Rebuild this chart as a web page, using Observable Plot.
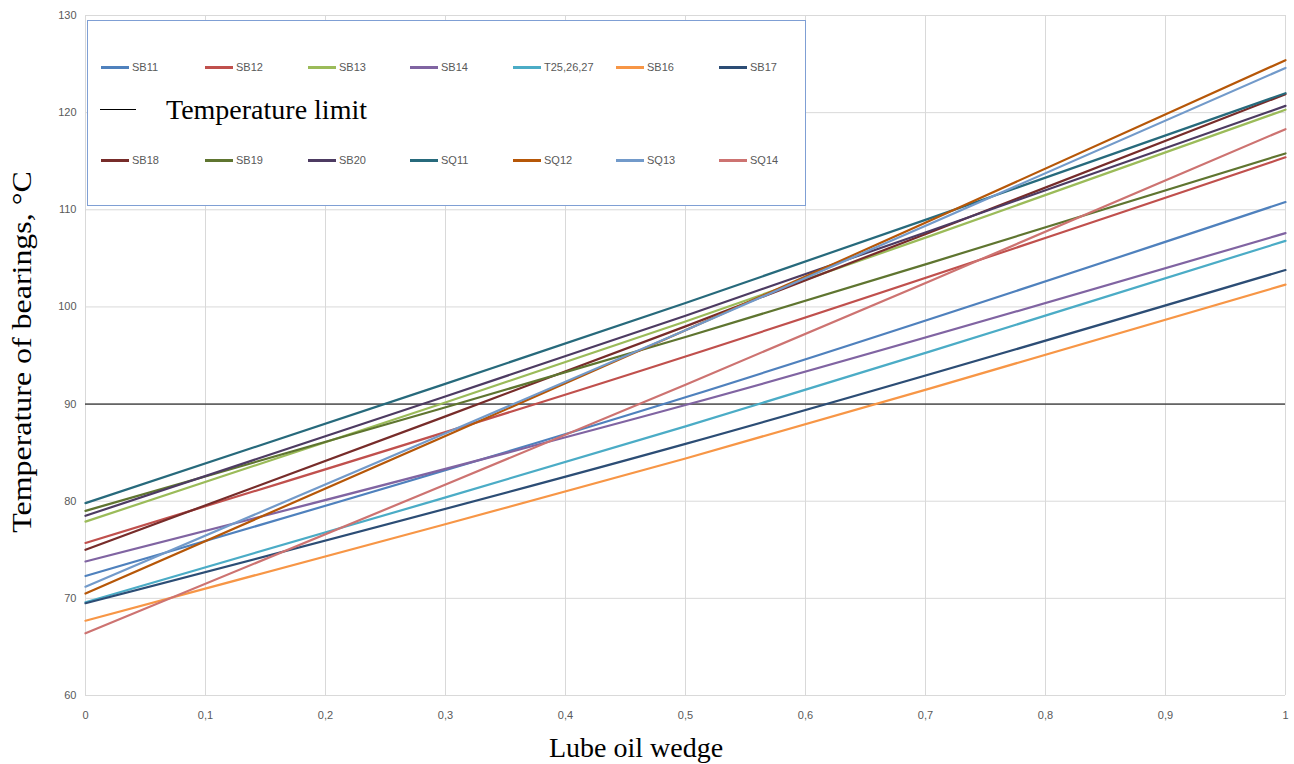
<!DOCTYPE html>
<html>
<head>
<meta charset="utf-8">
<script src="https://cdn.jsdelivr.net/npm/d3@7"></script>
<script src="https://cdn.jsdelivr.net/npm/@observablehq/plot@0.6"></script>
<style>
  body { margin: 0; background: #fff; }
  #wrap { position: relative; width: 1294px; height: 764px; overflow: hidden; }
  #legend { position: absolute; left: 87px; top: 20px; width: 719px; height: 186px; border: 1px solid #7f9fd4; background: #fff; box-sizing: border-box; }
  .item { position: absolute; height: 14px; font-family: "Liberation Sans", Arial, sans-serif; font-size: 11px; color: #595959; line-height: 14px; white-space: nowrap; }
  .sw { position: absolute; left: 0; top: 6px; width: 28px; height: 3px; }
  .lbl { position: absolute; left: 31px; top: 0; }
  .serif { font-family: "Liberation Serif", "Times New Roman", serif; color: #000; }
</style>
</head>
<body>
<div id="wrap"></div>
<script>
const xValues = [0, 0.5, 1];
const seriesNames = ["SB11","SB12","SB13","SB14","T25,26,27","SB16","SB17","SB18","SB19","SB20","SQ11","SQ12","SQ13","SQ14"];
const startValues = [72.3, 75.7, 77.9, 73.8, 69.6, 67.7, 69.5, 75.0, 79.0, 78.5, 79.8, 70.5, 71.2, 66.4];
const midValues   = [90.7, 94.9, 98.5, 89.9, 87.7, 84.4, 85.9, 98.0, 96.9, 99.1, 100.4, 97.6, 97.6, 92.0];
const endValues   = [110.8, 115.4, 120.3, 107.6, 106.8, 102.3, 103.8, 121.9, 115.8, 120.7, 122.0, 125.4, 124.6, 118.3];
const seriesColors = ["#4F81BD","#C0504D","#9BBB59","#8064A2","#4BACC6","#F79646","#2C4D75","#772C2A","#5F7530","#4D3B62","#276A7C","#B65708","#729ACA","#CD7371"];
const limitValue = 90;
const yTicks = [60, 70, 80, 90, 100, 110, 120, 130];
const xTicks = [0, 0.1, 0.2, 0.3, 0.4, 0.5, 0.6, 0.7, 0.8, 0.9, 1];
const xTickLabels = ["0","0,1","0,2","0,3","0,4","0,5","0,6","0,7","0,8","0,9","1"];

const rows = [];
seriesNames.forEach((name, i) => {
  rows.push({series: name, x: xValues[0], y: startValues[i]});
  rows.push({series: name, x: xValues[1], y: midValues[i]});
  rows.push({series: name, x: xValues[2], y: endValues[i]});
});

const tickFont = "Liberation Sans, Arial, sans-serif";
const chart = Plot.plot({
  width: 1294,
  height: 764,
  marginLeft: 85,
  marginRight: 9,
  marginTop: 15,
  marginBottom: 69,
  style: {background: "transparent"},
  x: {domain: [0, 1]},
  y: {domain: [60, 130]},
  color: {domain: seriesNames, range: seriesColors},
  marks: [
    Plot.gridX(xTicks, {stroke: "#d9d9d9", strokeOpacity: 1, strokeWidth: 1}),
    Plot.gridY(yTicks, {stroke: "#d9d9d9", strokeOpacity: 1, strokeWidth: 1}),
    Plot.ruleY([limitValue], {stroke: "#000", strokeWidth: 1}),
    Plot.line(rows, {x: "x", y: "y", z: "series", stroke: "series", strokeWidth: 2.2, curve: "catmull-rom"}),
    Plot.axisY(yTicks, {tickSize: 0, tickPadding: 9, fontSize: 11, fill: "#595959", label: null, fontFamily: tickFont}),
    Plot.axisX(xTicks, {tickSize: 0, tickPadding: 16, fontSize: 11, fill: "#595959", label: null,
      tickFormat: (d, i) => xTickLabels[i], fontFamily: tickFont})
  ]
});

const wrap = document.getElementById("wrap");
wrap.appendChild(chart);

// Legend
const legend = document.createElement("div");
legend.id = "legend";
wrap.appendChild(legend);
const colX = [13, 117, 220, 322, 425, 528, 631];
seriesNames.forEach((name, i) => {
  const row = i < 7 ? 0 : 1;
  const col = i % 7;
  const it = document.createElement("div");
  it.className = "item";
  it.style.left = colX[col] + "px";
  it.style.top = (row === 0 ? 39 : 132) + "px";
  const sw = document.createElement("div");
  sw.className = "sw";
  sw.style.background = seriesColors[i];
  const lb = document.createElement("div");
  lb.className = "lbl";
  lb.textContent = name;
  it.appendChild(sw); it.appendChild(lb);
  legend.appendChild(it);
});
const lim = document.createElement("div");
lim.style.cssText = "position:absolute;left:12px;top:73px;height:32px;width:420px;";
lim.innerHTML = '<div style="position:absolute;left:0;top:15px;width:36px;height:1px;background:#000"></div>' +
  '<div class="serif" style="position:absolute;left:66px;top:0;font-size:28px;line-height:32px;white-space:nowrap">Temperature limit</div>';
legend.appendChild(lim);

// Axis titles
const xt = document.createElement("div");
xt.className = "serif";
xt.textContent = "Lube oil wedge";
xt.style.cssText += "position:absolute;left:0;width:1272px;text-align:center;top:732px;font-size:28px;line-height:32px;white-space:nowrap;";
wrap.appendChild(xt);

const yt = document.createElement("div");
yt.className = "serif";
yt.textContent = "Temperature of bearings, °C";
yt.style.cssText += "position:absolute;left:22px;top:352px;font-size:28px;line-height:32px;white-space:nowrap;transform:translate(-50%,-50%) rotate(-90deg) scale(1.14,1);";
wrap.appendChild(yt);
</script>
</body>
</html>
